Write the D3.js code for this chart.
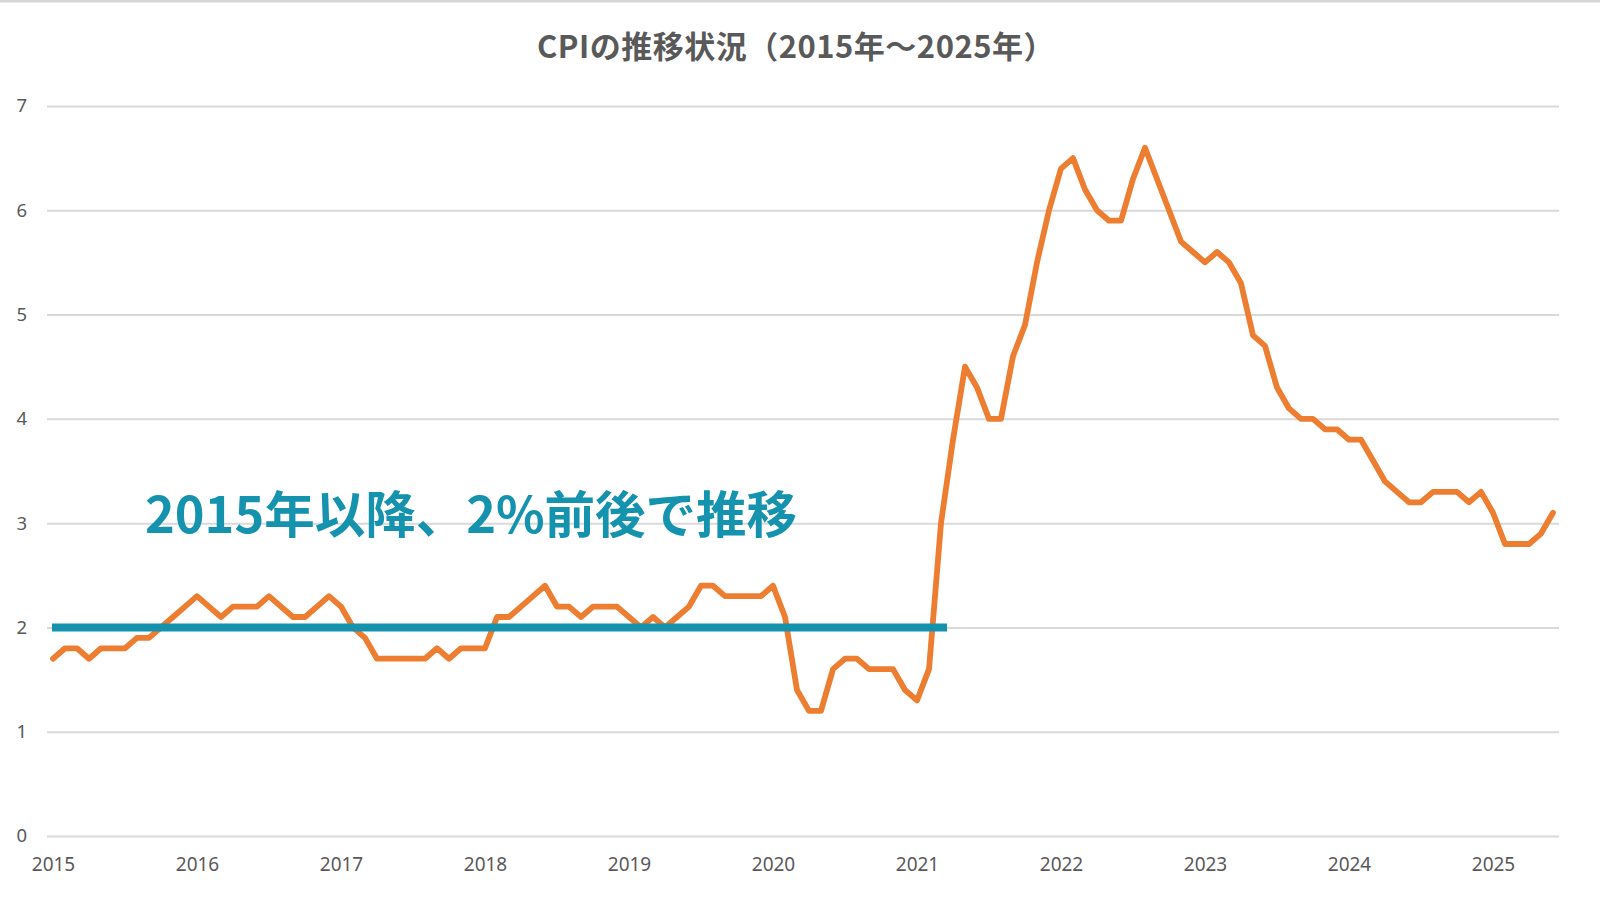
<!DOCTYPE html>
<html>
<head>
<meta charset="utf-8">
<script src="https://cdn.jsdelivr.net/npm/d3@7/dist/d3.min.js"></script>
<style>
  html, body { margin: 0; padding: 0; background: #ffffff; }
  svg { display: block; }
</style>
</head>
<body>
<svg id="chart" width="1600" height="900"></svg>
<script>
// ---- data (US core CPI, YoY %, monthly; series begins Feb 2015) ----
const cpi2015 = [1.7, 1.8, 1.8, 1.7, 1.8, 1.8, 1.8, 1.9, 1.9, 2.0, 2.1];          // Feb–Dec
const cpi2016 = [2.2, 2.3, 2.2, 2.1, 2.2, 2.2, 2.2, 2.3, 2.2, 2.1, 2.1, 2.2];
const cpi2017 = [2.3, 2.2, 2.0, 1.9, 1.7, 1.7, 1.7, 1.7, 1.7, 1.8, 1.7, 1.8];
const cpi2018 = [1.8, 1.8, 2.1, 2.1, 2.2, 2.3, 2.4, 2.2, 2.2, 2.1, 2.2, 2.2];
const cpi2019 = [2.2, 2.1, 2.0, 2.1, 2.0, 2.1, 2.2, 2.4, 2.4, 2.3, 2.3, 2.3];
const cpi2020 = [2.3, 2.4, 2.1, 1.4, 1.2, 1.2, 1.6, 1.7, 1.7, 1.6, 1.6, 1.6];
const cpi2021 = [1.4, 1.3, 1.6, 3.0, 3.8, 4.5, 4.3, 4.0, 4.0, 4.6, 4.9, 5.5];
const cpi2022 = [6.0, 6.4, 6.5, 6.2, 6.0, 5.9, 5.9, 6.3, 6.6, 6.3, 6.0, 5.7];
const cpi2023 = [5.6, 5.5, 5.6, 5.5, 5.3, 4.8, 4.7, 4.3, 4.1, 4.0, 4.0, 3.9];
const cpi2024 = [3.9, 3.8, 3.8, 3.6, 3.4, 3.3, 3.2, 3.2, 3.3, 3.3, 3.3, 3.2];
const cpi2025 = [3.3, 3.1, 2.8, 2.8, 2.8, 2.9, 3.1];                              // Jan–Jul

const yearBlocks = [
  { year: 2015, firstMonth: 2, values: cpi2015 },
  { year: 2016, firstMonth: 1, values: cpi2016 },
  { year: 2017, firstMonth: 1, values: cpi2017 },
  { year: 2018, firstMonth: 1, values: cpi2018 },
  { year: 2019, firstMonth: 1, values: cpi2019 },
  { year: 2020, firstMonth: 1, values: cpi2020 },
  { year: 2021, firstMonth: 1, values: cpi2021 },
  { year: 2022, firstMonth: 1, values: cpi2022 },
  { year: 2023, firstMonth: 1, values: cpi2023 },
  { year: 2024, firstMonth: 1, values: cpi2024 },
  { year: 2025, firstMonth: 1, values: cpi2025 }
];

const xTickLabels = ["2015","2016","2017","2018","2019","2020","2021","2022","2023","2024","2025"];
const xTickEvery = 12;            // one label every 12 categories
const yTicks = [0, 1, 2, 3, 4, 5, 6, 7];

const titleText = "CPIの推移状況（2015年～2025年）";
const noteText = "2015年以降、2%前後で推移";
const refLevel = 2;               // the "around 2%" reference line
const refFromCategory = 0;        // category position where reference line starts
const refToCategory = 74.5;       // category position where it ends (~Apr 2021)

// ---- build rows ----
const rows = [];
yearBlocks.forEach(b => {
  b.values.forEach((v, i) => {
    const m = b.firstMonth + i;
    rows.push({ key: b.year + "-" + String(m).padStart(2, "0"), value: v });
  });
});
const categories = rows.map(r => r.key);

// ---- layout ----
const W = 1600, H = 900;
const plot = { left: 47, right: 1559, top: 106, bottom: 836 };
const orange = "#ED7D31";
const teal = "#1592AD";
const grey = "#595959";
const gridColor = "#D9D9D9";

const svg = d3.select("#chart");
svg.append("rect").attr("width", W).attr("height", H).attr("fill", "#ffffff");
// thin grey border at very top
svg.append("rect").attr("x", 0).attr("y", 0).attr("width", W).attr("height", 2.5).attr("fill", "#D6D6D6");

const x = d3.scalePoint().domain(categories).range([plot.left, plot.right]).padding(0.5);
const y = d3.scaleLinear().domain([0, 7]).range([plot.bottom, plot.top]);
const step = x.step();
const xAtPos = p => x(categories[0]) + p * step;

// gridlines + y labels
const yAxis = d3.axisLeft(y).tickValues(yTicks).tickSize(-(plot.right - plot.left)).tickPadding(20).tickFormat(d3.format("d"));
const gy = svg.append("g").attr("transform", `translate(${plot.left},0)`).call(yAxis);
gy.select(".domain").remove();
gy.selectAll(".tick line").attr("stroke", gridColor).attr("stroke-width", 2);
gy.selectAll(".tick text")
  .attr("fill", grey)
  .attr("font-family", "'Noto Sans', 'Open Sans', sans-serif")
  .attr("font-size", 18.5);

// x labels
const tickCats = categories.filter((c, i) => i % xTickEvery === 0);
const xAxis = d3.axisBottom(x).tickValues(tickCats).tickSize(0).tickPadding(22)
  .tickFormat(c => xTickLabels[categories.indexOf(c) / xTickEvery]);
const gx = svg.append("g").attr("transform", `translate(0,${plot.bottom})`).call(xAxis);
gx.select(".domain").remove();
gx.selectAll(".tick text")
  .attr("fill", grey)
  .attr("font-family", "'Noto Sans', 'Open Sans', sans-serif")
  .attr("font-size", 19);

// title
svg.append("text")
  .attr("x", 796).attr("y", 58)
  .attr("text-anchor", "middle")
  .attr("font-family", "'Noto Sans CJK JP', 'Noto Sans', sans-serif")
  .attr("font-weight", "bold")
  .attr("font-size", 31)
  .attr("letter-spacing", 0.5)
  .attr("fill", grey)
  .text(titleText);

// CPI line
const line = d3.line().x(d => x(d.key)).y(d => y(d.value));
svg.append("path")
  .datum(rows)
  .attr("d", line)
  .attr("fill", "none")
  .attr("stroke", orange)
  .attr("stroke-width", 5.8)
  .attr("stroke-linejoin", "round")
  .attr("stroke-linecap", "round");

// reference line at 2%
svg.append("line")
  .attr("x1", xAtPos(refFromCategory) - 1).attr("x2", xAtPos(refToCategory))
  .attr("y1", y(refLevel)).attr("y2", y(refLevel))
  .attr("stroke", teal)
  .attr("stroke-width", 8);

// annotation
svg.append("text")
  .attr("x", 145).attr("y", 533)
  .attr("font-family", "'Noto Sans CJK JP', sans-serif")
  .attr("font-weight", "bold")
  .attr("font-size", 50.5)
  .attr("fill", teal)
  .text(noteText);
</script>
</body>
</html>
